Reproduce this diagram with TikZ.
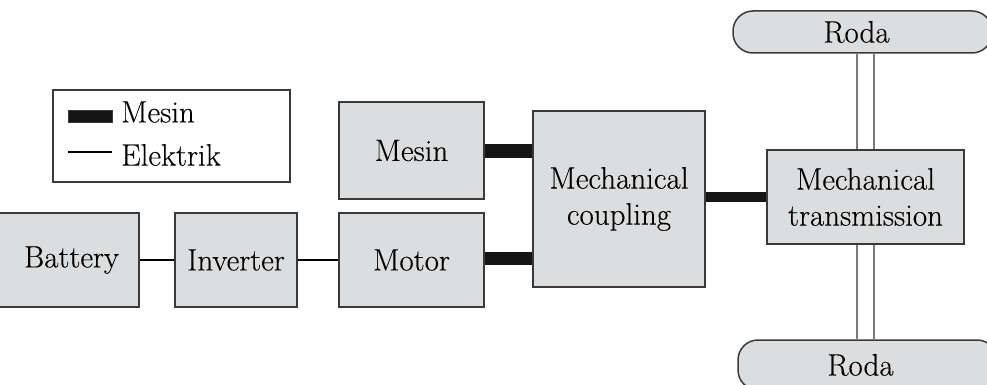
\documentclass[tikz,border=0pt]{standalone}
\usepackage{fontspec}
\newfontfamily\diafont{Latin Modern Roman}[FakeBold=0.25]
\begin{document}
\begin{tikzpicture}[x=1pt,y=-1pt,
  blk/.style={draw=boxline,fill=boxfill,line width=1.5pt,inner sep=0pt,align=center,
    font=\diafont\fontsize{31}{36}\selectfont},
  roda/.style={blk,rounded corners=20pt},
  mech/.style={draw=mechcol,line cap=butt},
  elec/.style={draw=black,line width=1.2pt},
  axle/.style={draw=axlecol,line width=2pt},
  txt/.style={inner sep=0pt,anchor=west,font=\diafont\fontsize{31}{36}\selectfont}]
\definecolor{boxfill}{HTML}{DCDDDF}
\definecolor{boxline}{HTML}{3A3A3A}
\definecolor{mechcol}{HTML}{151515}
\definecolor{axlecol}{HTML}{7A7A7A}
\useasboundingbox (0,0) rectangle (987,385);
\clip (0,0) rectangle (987,385);
% legend
\node[draw=boxline,line width=1.5pt,fill=white,minimum width=237pt,minimum height=92pt,inner sep=0pt] (legend) at (171.5,136) {};
\node[draw=boxline,fill=mechcol,line width=1pt,minimum width=44pt,minimum height=12pt,inner sep=0pt] (lgsw) at (90,116.5) {};
\node[txt] (lgmt) at (121,112) {Mesin};
\coordinate (lgea) at (68,152);
\coordinate (lgeb) at (112,152);
\draw[elec] (lgea) -- (lgeb);
\node[txt] (lget) at (121,155) {Elektrik};
% blocks
\node[blk,minimum width=159pt,minimum height=94pt] (battery) at (59.5,260) {\kern24pt Battery};
\node[blk,minimum width=122pt,minimum height=94pt] (inverter) at (236,260) {Inverter};
\node[blk,minimum width=145pt,minimum height=94pt] (motor) at (411.5,260) {Motor};
\node[blk,minimum width=145pt,minimum height=97pt] (mesin) at (411.5,150.5) {Mesin};
\node[blk,minimum width=172pt,minimum height=176pt] (coupling) at (619,199) {Mechanical\\coupling};
\node[blk,minimum width=197pt,minimum height=94pt] (trans) at (865.5,197) {Mechanical\\transmission};
\node[roda,minimum width=259pt,minimum height=42pt] (roda1) at (862.5,32) {\kern-12pt Roda};
\node[roda,minimum width=259pt,minimum height=50pt] (roda2) at (867.5,365) {\kern-14pt Roda};
% electrical
\draw[elec] (battery.east) -- (inverter.west);
\draw[elec] (inverter.east) -- (motor.west);
% mechanical
\draw[mech,line width=14pt] (mesin.east) -- (mesin.east -| coupling.west);
\draw[mech,line width=13pt] ([yshift=2pt]motor.east) -- ([yshift=2pt]motor.east -| coupling.west);
\draw[mech,line width=10pt] (trans.west -| coupling.east) -- (trans.west);
% axles
\draw[axle] ([xshift=-8.5pt]trans.north) -- ([xshift=-8.5pt]trans.north |- roda1.south);
\draw[axle] ([xshift=8.5pt]trans.north) -- ([xshift=8.5pt]trans.north |- roda1.south);
\draw[axle] ([xshift=-8.5pt]trans.south) -- ([xshift=-8.5pt]trans.south |- roda2.north);
\draw[axle] ([xshift=8.5pt]trans.south) -- ([xshift=8.5pt]trans.south |- roda2.north);
\end{tikzpicture}
\end{document}
